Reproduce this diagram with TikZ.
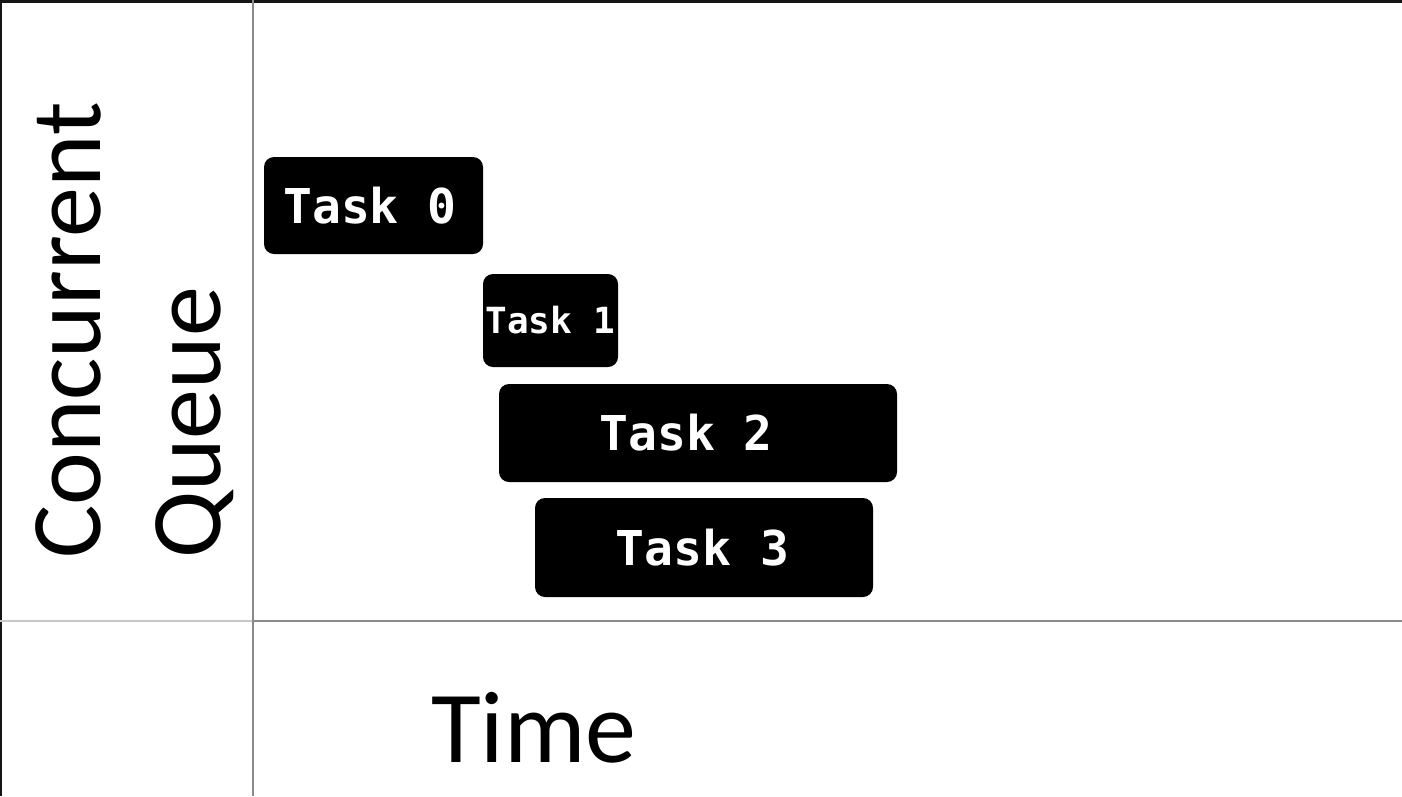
\documentclass[tikz,border=0pt]{standalone}
\usepackage{fontspec}
\setmainfont{Carlito}
\newfontfamily\taskfont{DejaVu Sans Mono}
\definecolor{framedark}{HTML}{141414}
\definecolor{gridgray}{HTML}{8A8A8A}
\definecolor{gridlight}{HTML}{C8C8C8}
\tikzset{
  taskbox/.style={fill=black, text=white, rounded corners=10pt, inner sep=0pt,
    font=\taskfont\bfseries\fontsize{48}{48}\selectfont},
  axislabel/.style={inner sep=0pt, font=\fontsize{100}{100}\selectfont}
}
\begin{document}
\begin{tikzpicture}[x=1pt,y=-1pt]
\useasboundingbox (0,0) rectangle (1402,796);
\fill[white] (0,0) rectangle (1402,796);
% frame edges
\fill[framedark] (0,0) rectangle (1402,3);
\fill[framedark] (0,0) rectangle (2,796);
% grid lines
\coordinate (vtop) at (253,0);
\coordinate (vbot) at (253,796);
\coordinate (hleft) at (0,621);
\coordinate (hmid) at (253,621);
\coordinate (hright) at (1402,621);
\draw[gridlight, line width=2pt] (hleft) -- (hmid);
\draw[gridgray, line width=2.5pt] (hmid) -- (hright);
\draw[gridgray, line width=2.5pt] (vtop) -- (vbot);
% labels
\node[axislabel, rotate=90, anchor=base west] (conc) at (100,559) {Concurrent};
\node[axislabel, rotate=90, anchor=base west] (queue) at (220,559) {Queue};
\node[axislabel, anchor=base west, font=\fontsize{102}{102}\selectfont] (time) at (431,762) {Time};
% tasks
\node[taskbox, minimum width=219pt, minimum height=97pt] (t0) at (373.5,205.5) {Task 0\hspace*{7pt}};
\node[taskbox, minimum width=135pt, minimum height=93pt, font=\taskfont\bfseries\fontsize{36}{36}\selectfont] (t1) at (550.5,320.5) {Task 1};
\node[taskbox, minimum width=398pt, minimum height=98pt] (t2) at (698,433) {Task 2\hspace*{24pt}};
\node[taskbox, minimum width=338pt, minimum height=99pt] (t3) at (704,547.5) {Task 3\hspace*{3pt}};
\end{tikzpicture}
\end{document}
